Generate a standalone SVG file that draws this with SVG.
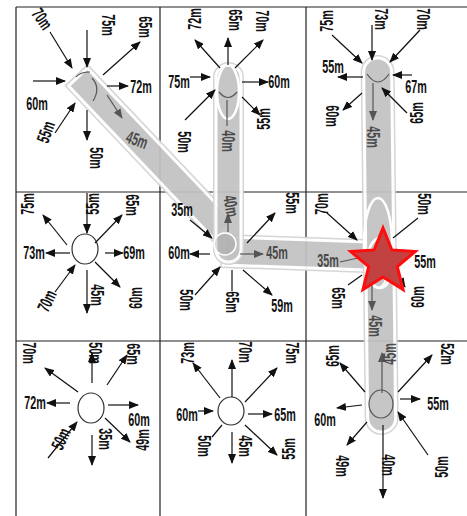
<svg xmlns="http://www.w3.org/2000/svg" width="467" height="516" viewBox="0 0 467 516">
<style>
.grid{stroke:#222;stroke-width:1.2;fill:none}
.a{stroke:#111;stroke-width:1.2;fill:none;marker-end:url(#ah)}
.l{stroke:#111;stroke-width:1.2;fill:none}
.ag{stroke:#555;stroke-width:1.2;fill:none;marker-end:url(#ahg)}
.lg{stroke:#555;stroke-width:1.2;fill:none}
.t{font-family:"Liberation Sans",Arial,sans-serif;font-weight:700;font-size:18px;text-anchor:middle;dominant-baseline:central;fill:#111}
.g{fill:#4a4a4a}
.bo{fill:none;stroke:#d2d2d2;stroke-width:6}
.bi{fill:#c2c2c2;stroke:#fff;stroke-width:3}
.node{fill:none;stroke:#333;stroke-width:1.2}
.pill{fill:none;stroke:#fff;stroke-width:2.5}
</style>
<defs>
<marker id="ah" markerUnits="userSpaceOnUse" markerWidth="10" markerHeight="8" refX="9" refY="4" orient="auto"><path d="M0,0 L10,4 L0,8 Z" fill="#111"/></marker>
<marker id="ahg" markerUnits="userSpaceOnUse" markerWidth="10" markerHeight="8" refX="9" refY="4" orient="auto"><path d="M0,0 L10,4 L0,8 Z" fill="#555"/></marker>
</defs>
<rect width="467" height="516" fill="#fff"/>
<g id="grid">
<path class="grid" d="M16,7 H467 M16,192 H467 M16,341 H467 M16,7 V516 M160,7 V516 M306,7 V516"/>
</g>
<g id="plain-nodes">
<ellipse class="node" cx="85" cy="249" rx="13" ry="15"/>
<ellipse class="node" cx="91" cy="408" rx="13" ry="15"/>
<ellipse class="node" cx="231" cy="411" rx="13" ry="14"/>
</g>
<g id="connectors">
<g id="band1" opacity="0.92">
<rect class="bo" x="0" y="-13" width="212" height="26" transform="translate(78,77) rotate(46.5)"/>
<rect class="bi" x="0" y="-13" width="212" height="26" transform="translate(78,77) rotate(46.5)"/>
</g>
<g id="band3" opacity="0.92">
<rect class="bo" x="0" y="-14" width="146" height="28" transform="translate(224,251) rotate(2)"/>
<rect class="bi" x="0" y="-14" width="146" height="28" transform="translate(224,251) rotate(2)"/>
</g>
<g id="band2" opacity="0.92">
<rect class="bo" x="216" y="65" width="25" height="197" rx="12.5"/>
<rect class="bi" x="216" y="65" width="25" height="197" rx="12.5"/>
</g>
<g id="band4" opacity="0.92">
<rect class="bo" x="-14" y="0" width="28" height="374" rx="14" transform="translate(377.5,58) rotate(-0.66)"/>
<rect class="bi" x="-14" y="0" width="28" height="374" rx="14" transform="translate(377.5,58) rotate(-0.66)"/>
</g>
</g>
<g id="node-r1c1">
<path class="lg" d="M76,77 Q80,72 90,72"/>
<path class="lg" d="M92,78 Q101,88 93,101"/>
<path class="a" d="M33,81 L65,81"/>
<path class="a" d="M87,30 L87,67"/>
<path class="a" d="M50,32 L72,68"/>
<path class="a" d="M103,75 L140,42"/>
<path class="a" d="M107,86 L128,86"/>
<path class="a" d="M55,133 L75,103"/>
<path class="a" d="M87,110 L87,140"/>
<path class="ag" d="M107,95 L122,118"/>
<text class="t" transform="translate(42,19) rotate(55) scale(.6,1)">70m</text>
<text class="t" transform="translate(108,25) rotate(90) scale(.6,1)">75m</text>
<text class="t" transform="translate(145,27) rotate(90) scale(.6,1)">65m</text>
<text class="t" transform="translate(141,87) scale(.6,1)">72m</text>
<text class="t" transform="translate(37,104) scale(.6,1)">60m</text>
<text class="t" transform="translate(46,132) rotate(-70) scale(.6,1)">55m</text>
<text class="t" transform="translate(96,158) rotate(90) scale(.6,1)">50m</text>
<text class="t g" transform="translate(137,140) rotate(20) scale(.6,1)">45m</text>
</g>
<g id="node-r1c2">
<ellipse class="pill" cx="228" cy="92" rx="11" ry="27"/>
<path class="lg" d="M219,92 Q228,103 237,92"/>
<path class="a" d="M220,68 L195,40"/>
<path class="a" d="M228,65 L228,38"/>
<path class="a" d="M235,68 L263,40"/>
<path class="a" d="M190,77 L210,77"/>
<path class="a" d="M242,82 L268,82"/>
<path class="a" d="M242,97 L260,115"/>
<path class="a" d="M185,120 L215,90"/>
<path class="lg" d="M227,100 L227,126"/>
<text class="t" transform="translate(195,19) rotate(-90) scale(.6,1)">72m</text>
<text class="t" transform="translate(235,20) rotate(90) scale(.6,1)">65m</text>
<text class="t" transform="translate(262,21) rotate(90) scale(.6,1)">70m</text>
<text class="t" transform="translate(179,82) scale(.6,1)">75m</text>
<text class="t" transform="translate(279,82) scale(.6,1)">60m</text>
<text class="t" transform="translate(264,119) rotate(-90) scale(.6,1)">55m</text>
<text class="t" transform="translate(184,142) rotate(90) scale(.6,1)">50m</text>
<text class="t g" transform="translate(228,141) rotate(90) scale(.6,1)">40m</text>
</g>
<g id="node-r1c3">
<path class="lg" d="M367,74 Q378,90 389,74"/>
<path class="a" d="M332,35 L362,63"/>
<path class="a" d="M372,25 L372,60"/>
<path class="a" d="M420,30 L390,62"/>
<path class="a" d="M363,77 L338,77"/>
<path class="a" d="M412,75 L393,75"/>
<path class="a" d="M362,93 L343,110"/>
<path class="a" d="M407,113 L382,88"/>
<path class="ag" d="M373,83 L373,120"/>
<text class="t" transform="translate(327,21) rotate(-90) scale(.6,1)">75m</text>
<text class="t" transform="translate(381,19) rotate(90) scale(.6,1)">73m</text>
<text class="t" transform="translate(423,19) rotate(90) scale(.6,1)">70m</text>
<text class="t" transform="translate(333,67) scale(.6,1)">55m</text>
<text class="t" transform="translate(416,87) scale(.6,1)">67m</text>
<text class="t" transform="translate(332,116) rotate(90) scale(.6,1)">60m</text>
<text class="t" transform="translate(417,113) rotate(-90) scale(.6,1)">65m</text>
<text class="t g" transform="translate(373,137) rotate(90) scale(.6,1)">45m</text>
</g>
<g id="node-r2c1">
<path class="a" d="M67,245 L43,215"/>
<path class="a" d="M87,193 L87,233"/>
<path class="a" d="M95,243 L122,215"/>
<path class="a" d="M70,253 L46,253"/>
<path class="a" d="M105,253 L123,253"/>
<path class="a" d="M55,292 L75,265"/>
<path class="a" d="M87,270 L87,313"/>
<path class="a" d="M95,262 L120,287"/>
<text class="t" transform="translate(28,204) rotate(-90) scale(.6,1)">75m</text>
<text class="t" transform="translate(93,204) rotate(-90) scale(.6,1)">55m</text>
<text class="t" transform="translate(132,205) rotate(90) scale(.6,1)">65m</text>
<text class="t" transform="translate(34,253) scale(.6,1)">73m</text>
<text class="t" transform="translate(134,253) scale(.6,1)">69m</text>
<text class="t" transform="translate(47,301) rotate(-65) scale(.6,1)">70m</text>
<text class="t" transform="translate(97,295) rotate(90) scale(.6,1)">45m</text>
<text class="t" transform="translate(136,298) rotate(-90) scale(.6,1)">60m</text>
</g>
<g id="node-r2c2">
<circle cx="225" cy="244" r="11" fill="#999" fill-opacity="0.35" stroke="#fff" stroke-width="1.5"/>
<path class="a" d="M190,220 L212,238"/>
<path class="a" d="M247,243 L275,213"/>
<path class="a" d="M210,254 L190,254"/>
<path class="ag" d="M240,254 L263,254"/>
<path class="a" d="M195,295 L220,267"/>
<path class="l" d="M232,270 L232,291"/>
<path class="a" d="M243,270 L272,295"/>
<path class="ag" d="M228,232 L228,214"/>
<text class="t" transform="translate(182,210) scale(.6,1)">35m</text>
<text class="t" transform="translate(292,203) rotate(90) scale(.6,1)">55m</text>
<text class="t" transform="translate(179,253) scale(.6,1)">60m</text>
<text class="t g" transform="translate(277,253) scale(.6,1)">45m</text>
<text class="t" transform="translate(186,300) rotate(90) scale(.6,1)">50m</text>
<text class="t" transform="translate(232,302) rotate(90) scale(.6,1)">65m</text>
<text class="t" transform="translate(282,306) scale(.6,1)">59m</text>
<text class="t g" transform="translate(231,206) rotate(80) scale(.6,1)">40m</text>
</g>
<g id="node-r2c3">
<ellipse class="pill" cx="378" cy="243" rx="14" ry="45"/>
<ellipse class="pill" cx="380" cy="263" rx="13" ry="25"/>
<path class="a" d="M327,213 L357,240"/>
<path class="l" d="M418,218 L393,238"/>
<path class="lg" d="M340,262 L358,258"/>
<path class="l" d="M348,285 L362,275"/>
<path class="a" d="M398,276 L405,287"/>
<path class="ag" d="M372,285 L372,310"/>
<path d="M383,228 L391.8,249.9 L415.3,251.5 L397.3,266.6 L403,289.5 L383,277 L363,289.5 L368.7,266.6 L350.7,251.5 L374.2,249.9 Z" fill="#c24141" stroke="#ff0d0d" stroke-width="3" stroke-linejoin="miter"/>
<text class="t" transform="translate(322,204) rotate(-90) scale(.6,1)">70m</text>
<text class="t" transform="translate(424,204) rotate(90) scale(.6,1)">50m</text>
<text class="t g" transform="translate(328,261) scale(.6,1)">35m</text>
<text class="t" transform="translate(425,262) scale(.6,1)">55m</text>
<text class="t" transform="translate(338,298) rotate(90) scale(.6,1)">65m</text>
<text class="t" transform="translate(418,297) rotate(-90) scale(.6,1)">60m</text>
<text class="t g" transform="translate(375,326) rotate(90) scale(.6,1)">45m</text>
</g>
<g id="node-r3c1">
<path class="a" d="M78,392 L45,368"/>
<path class="a" d="M92,383 L92,353"/>
<path class="a" d="M107,385 L127,355"/>
<path class="a" d="M70,403 L47,403"/>
<path class="a" d="M108,405 L138,405"/>
<path class="a" d="M48,458 L77,422"/>
<path class="a" d="M92,435 L92,465"/>
<path class="a" d="M105,418 L130,442"/>
<text class="t" transform="translate(29,353) rotate(90) scale(.6,1)">70m</text>
<text class="t" transform="translate(95,353) rotate(90) scale(.6,1)">50m</text>
<text class="t" transform="translate(133,354) rotate(90) scale(.6,1)">65m</text>
<text class="t" transform="translate(35,403) scale(.6,1)">72m</text>
<text class="t" transform="translate(139,420) scale(.6,1)">60m</text>
<text class="t" transform="translate(61,439) rotate(-65) scale(.6,1)">50m</text>
<text class="t" transform="translate(105,439) rotate(90) scale(.6,1)">35m</text>
<text class="t" transform="translate(143,440) rotate(-90) scale(.6,1)">49m</text>
</g>
<g id="node-r3c2">
<path class="a" d="M220,398 L193,363"/>
<path class="a" d="M232,397 L232,360"/>
<path class="a" d="M245,402 L277,368"/>
<path class="a" d="M198,411 L213,411"/>
<path class="a" d="M248,414 L272,414"/>
<path class="l" d="M212,437 L222,425"/>
<path class="a" d="M232,432 L232,463"/>
<path class="a" d="M245,425 L277,455"/>
<text class="t" transform="translate(188,353) rotate(-90) scale(.6,1)">73m</text>
<text class="t" transform="translate(245,352) rotate(90) scale(.6,1)">70m</text>
<text class="t" transform="translate(292,353) rotate(90) scale(.6,1)">75m</text>
<text class="t" transform="translate(187,415) scale(.6,1)">60m</text>
<text class="t" transform="translate(285,415) scale(.6,1)">65m</text>
<text class="t" transform="translate(204,446) rotate(90) scale(.6,1)">50m</text>
<text class="t" transform="translate(245,446) rotate(90) scale(.6,1)">45m</text>
<text class="t" transform="translate(289,449) rotate(-90) scale(.6,1)">55m</text>
</g>
<g id="node-r3c3">
<ellipse cx="381" cy="404" rx="12" ry="14" fill="none" stroke="#555" stroke-width="1.2"/>
<path class="a" d="M365,392 L340,363"/>
<path class="a" d="M398,392 L432,355"/>
<path class="a" d="M400,399 L420,399"/>
<path class="a" d="M362,405 L337,408"/>
<path class="a" d="M367,422 L347,445"/>
<path class="a" d="M383,425 L383,498"/>
<path class="a" d="M428,455 L398,412"/>
<path class="ag" d="M382,393 L382,353"/>
<text class="t" transform="translate(333,356) rotate(-90) scale(.6,1)">65m</text>
<text class="t" transform="translate(447,354) rotate(90) scale(.6,1)">52m</text>
<text class="t" transform="translate(438,404) scale(.6,1)">55m</text>
<text class="t" transform="translate(325,420) scale(.6,1)">60m</text>
<text class="t" transform="translate(342,466) rotate(90) scale(.6,1)">49m</text>
<text class="t" transform="translate(388,465) rotate(90) scale(.6,1)">40m</text>
<text class="t" transform="translate(442,467) rotate(-90) scale(.6,1)">50m</text>
<text class="t g" transform="translate(390,354) rotate(-90) scale(.6,1)">45m</text>
</g>
</svg>
